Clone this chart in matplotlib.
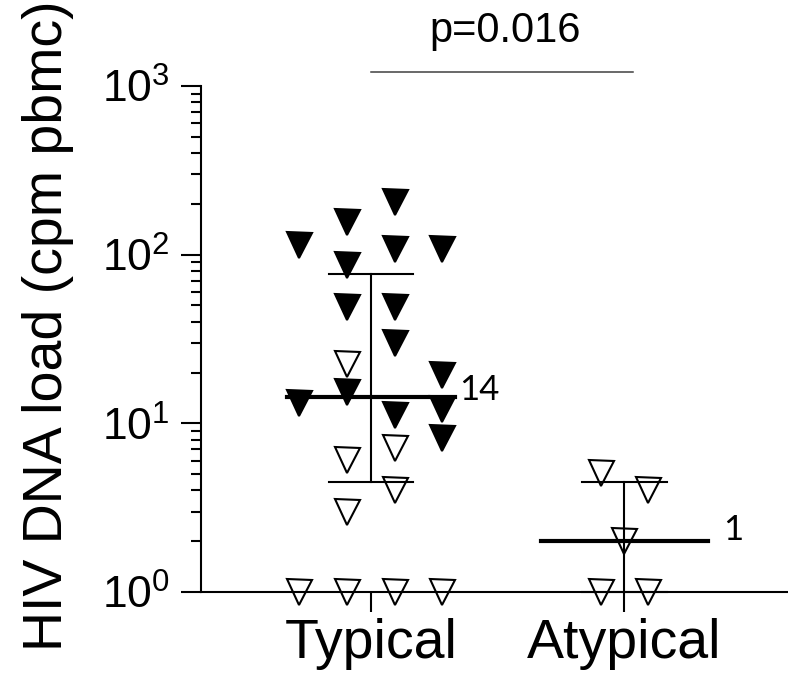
import matplotlib
matplotlib.use("Agg")
import matplotlib.pyplot as plt
from matplotlib.ticker import LogLocator, NullFormatter

plt.rcParams['font.family'] = ['Liberation Sans', 'DejaVu Sans']
plt.rcParams['mathtext.fontset'] = 'custom'
plt.rcParams['mathtext.rm'] = 'Liberation Sans'
plt.rcParams['mathtext.it'] = 'Liberation Sans:italic'

# categories
categories = ['Typical', 'Atypical']

# Typical group: value, lane (column of the scatter), filled symbol or not
typical_values = [114, 13.2, 1,
                  156, 87, 49, 22.5, 15.3, 6.1, 3.0, 1,
                  205, 108, 49, 30, 11.2, 7.1, 4.0, 1,
                  108, 19.3, 12.2, 8.2, 1]
typical_lanes = [-3, -3, -3,
                 -1, -1, -1, -1, -1, -1, -1, -1,
                 1, 1, 1, 1, 1, 1, 1, 1,
                 3, 3, 3, 3, 3]
typical_filled = [True, True, False,
                  True, True, True, False, True, False, False, False,
                  True, True, True, True, True, False, False, False,
                  True, True, True, True, False]

# Atypical group
atypical_values = [5.1, 1, 2.0, 4.0, 1]
atypical_lanes = [-1, -1, 0, 1, 1]
atypical_filled = [False, False, False, False, False]

# median and interquartile range as drawn
medians = [14.3, 2.0]
q1 = [4.5, 1.0]
q3 = [77, 4.5]
median_labels = ['14', '1']

p_text = 'p=0.016'

LANE = 0.094


def draw_group(ax, pos, values, lanes, filled):
    for v, lane, f in zip(values, lanes, filled):
        ax.plot(pos + lane * LANE, v, marker='v', ms=18, ls='none',
                mfc='black' if f else 'none', mec='black', mew=1.5,
                clip_on=False, zorder=3)


fig = plt.figure(figsize=(7.88, 6.83), dpi=100)
ax = fig.add_axes([201 / 788, 91 / 683, 587 / 788, 506 / 683])

draw_group(ax, 0, typical_values, typical_lanes, typical_filled)
draw_group(ax, 1, atypical_values, atypical_lanes, atypical_filled)

for i in range(len(categories)):
    ax.plot([i - 0.33, i + 0.33], [medians[i], medians[i]], color='black', lw=3, zorder=4, clip_on=False)
    ax.plot([i, i], [q1[i], q3[i]], color='black', lw=1.5, zorder=4, clip_on=False)
    ax.plot([i - 0.167, i + 0.167], [q1[i], q1[i]], color='black', lw=1.5, zorder=4, clip_on=False)
    ax.plot([i - 0.167, i + 0.167], [q3[i], q3[i]], color='black', lw=1.5, zorder=4, clip_on=False)

# median labels (drawn in a Calibri-like face in the original)
ax.annotate(median_labels[0], xy=(0.33, medians[0]), xytext=(3, 5), textcoords='offset points',
            ha='left', va='center', fontsize=25, family=['Lato', 'DejaVu Sans'])
ax.annotate(median_labels[1], xy=(1.33, medians[1]), xytext=(11, 8), textcoords='offset points',
            ha='left', va='center', fontsize=25, family=['Lato', 'DejaVu Sans'])

# significance bar
ax.plot([0, 1.034], [1211, 1211], color='#404040', lw=1.1, clip_on=False)
ax.text(0.529, 2118, p_text, ha='center', va='center', fontsize=30)

ax.set_yscale('log')
ax.set_ylim(1, 1000)
ax.set_xlim(-0.67, 1.645)
ax.set_xticks([0, 1])
ax.set_xticklabels(categories)
ax.yaxis.set_major_locator(LogLocator(base=10, numticks=10))
ax.yaxis.set_minor_locator(LogLocator(base=10, subs=range(2, 10), numticks=10))
ax.yaxis.set_minor_formatter(NullFormatter())

for s in ['top', 'right']:
    ax.spines[s].set_visible(False)
for s in ['left', 'bottom']:
    ax.spines[s].set_linewidth(1.5)

ax.tick_params(axis='y', which='major', length=14.4, width=1.5, pad=8, labelsize=32)
ax.tick_params(axis='y', which='minor', length=7.2, width=1.5)
ax.tick_params(axis='x', which='major', length=14.4, width=1.5, pad=4, labelsize=40)

fig.text(48 / 788, 1 - 326 / 683, 'HIV DNA load (cpm pbmc)', rotation=90,
         ha='center', va='center', fontsize=40)

fig.savefig('out.png', dpi=100)
